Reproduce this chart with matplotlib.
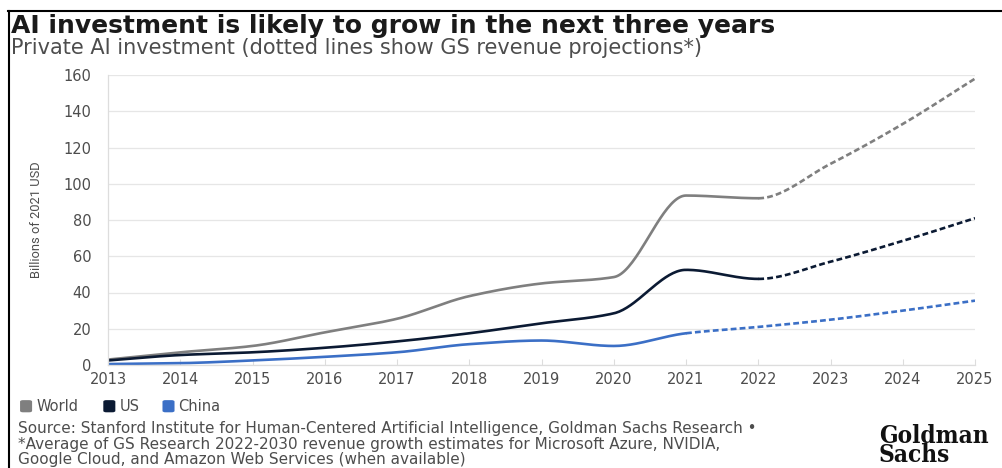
import matplotlib
matplotlib.use("Agg")
import matplotlib.pyplot as plt
import numpy as np
from matplotlib.lines import Line2D
from matplotlib.patches import FancyBboxPatch
from matplotlib import font_manager

years = [2013, 2014, 2015, 2016, 2017, 2018, 2019, 2020, 2021, 2022, 2023, 2024, 2025]
world = [3, 7, 10.5, 18, 25.5, 38, 45, 48.5, 93.5, 92, 111, 133, 158]
us = [2.5, 5.5, 7, 9.5, 13, 17.5, 23, 28.5, 52.5, 47.5, 57, 68.5, 81]
china = [0.5, 1, 2.5, 4.5, 7, 11.5, 13.5, 10.5, 17.5, 21, 25, 30, 35.5]
series_names = ["World", "US", "China"]
# first projected year for each series (dotted from here on)
proj_start = {"World": 2022, "US": 2022, "China": 2021}

colors = {"World": "#7f7f7f", "US": "#0b1a33", "China": "#3b6fc6"}
text_gray = "#4d4d4d"


def monotone(x, y, n=40):
    # monotone cubic (like d3 curveMonotoneX) for a smooth look
    x = np.asarray(x, float)
    y = np.asarray(y, float)
    h = np.diff(x)
    d = np.diff(y) / h
    m = np.zeros_like(y)
    m[0], m[-1] = d[0], d[-1]
    for i in range(1, len(y) - 1):
        if d[i - 1] * d[i] <= 0:
            m[i] = 0
        else:
            m[i] = 3 * (h[i - 1] + h[i]) / ((2 * h[i] + h[i - 1]) / d[i - 1] + (h[i] + 2 * h[i - 1]) / d[i])
    xs, ys = [], []
    for i in range(len(x) - 1):
        t = np.linspace(0, 1, n)
        h00 = 2 * t**3 - 3 * t**2 + 1
        h10 = t**3 - 2 * t**2 + t
        h01 = -2 * t**3 + 3 * t**2
        h11 = t**3 - t**2
        xs.append(x[i] + t * h[i])
        ys.append(h00 * y[i] + h10 * h[i] * m[i] + h01 * y[i + 1] + h11 * h[i] * m[i + 1])
    return np.concatenate(xs), np.concatenate(ys)


installed = {f.name for f in font_manager.fontManager.ttflist}
narrow = 'Liberation Sans Narrow' if 'Liberation Sans Narrow' in installed else 'Roboto'

plt.rcParams['font.family'] = ['DejaVu Sans']
fig = plt.figure(figsize=(10.03, 4.68), dpi=100)
ax = fig.add_axes([0.1077, 0.2201, 0.8644, 0.6196])

for name, vals in zip(series_names, [world, us, china]):
    xs, ys = monotone(years, vals)
    p = proj_start[name]
    ax.plot(xs[xs <= p], ys[xs <= p], color=colors[name], lw=1.9, solid_capstyle='round')
    ax.plot(xs[xs >= p], ys[xs >= p], color=colors[name], lw=1.9, ls=(0, (2.2, 1.2)))

ax.set_xlim(2013, 2025)
ax.set_ylim(0, 160)
ax.set_xticks(years)
ax.set_yticks(range(0, 161, 20))
ax.grid(True, axis='y', color='#e6e6e6', lw=0.9)
ax.set_axisbelow(True)
for s in ['top', 'right']:
    ax.spines[s].set_visible(False)
for s in ['left', 'bottom']:
    ax.spines[s].set_color('#dddddd')
    ax.spines[s].set_linewidth(0.9)
ax.tick_params(axis='y', length=0, labelsize=10.5, colors=text_gray, pad=12)
ax.tick_params(axis='x', direction='in', length=4, color='#dddddd', labelsize=10.5,
               labelcolor=text_gray, pad=5)
ax.set_ylabel('Billions of 2021 USD', fontsize=10 if narrow != 'Roboto' else 9.3, color=text_gray,
              family=narrow, labelpad=15)

fig.text(0.011, 0.930, 'AI investment is likely to grow in the next three years',
         fontsize=18, fontweight='bold', color='#1a1a1a', va='baseline')
fig.text(0.011, 0.885, 'Private AI investment (dotted lines show GS revenue projections*)',
         fontsize=15, color=text_gray, va='baseline')

# legend: rounded squares with labels
leg_x = [0.020, 0.103, 0.162]
for name, lx in zip(series_names, leg_x):
    fig.add_artist(FancyBboxPatch((lx, 0.119), 0.012, 0.026, boxstyle='round,pad=0,rounding_size=0.003',
                                  transform=fig.transFigure, color=colors[name], lw=0))
    fig.text(lx + 0.016, 0.1315, name, fontsize=10.5, color=text_gray, va='center')

src_size = 11
fig.text(0.018, 0.074, 'Source: Stanford Institute for Human-Centered Artificial Intelligence, Goldman Sachs Research \u2022',
         fontsize=src_size, color=text_gray, va='baseline')
fig.text(0.018, 0.041, '*Average of GS Research 2022-2030 revenue growth estimates for Microsoft Azure, NVIDIA,',
         fontsize=src_size, color=text_gray, va='baseline')
fig.text(0.018, 0.009, 'Google Cloud, and Amazon Web Services (when available)',
         fontsize=src_size, color=text_gray, va='baseline')
fig.text(0.876, 0.048, 'Goldman\nSachs', fontsize=17.5, fontweight='bold', family='DejaVu Serif',
         fontstretch='condensed', color='#111111', va='center', linespacing=0.7)

# frame lines at top and left
fig.add_artist(Line2D([0.008, 0.998], [0.977, 0.977], color='black', lw=1.5, transform=fig.transFigure))
fig.add_artist(Line2D([0.009, 0.009], [0.0, 0.977], color='black', lw=1.5, transform=fig.transFigure))

fig.savefig('out.png', dpi=100, facecolor='white')
